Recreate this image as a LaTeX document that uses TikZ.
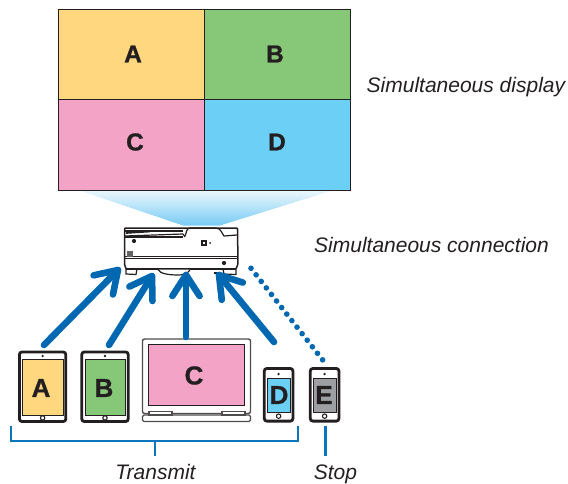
\documentclass[tikz,border=0pt]{standalone}
\usepackage{fontspec}
\setmainfont[BoldFeatures={FakeBold=0.9}]{Liberation Sans}
\usetikzlibrary{arrows.meta,calc}
\definecolor{cA}{HTML}{FFD77F}
\definecolor{cB}{HTML}{87C878}
\definecolor{cC}{HTML}{F3A3C6}
\definecolor{cD}{HTML}{6BCFF6}
\definecolor{cE}{HTML}{9D9FA2}
\definecolor{ink}{HTML}{231F20}
\definecolor{blu}{HTML}{0067B1}
\definecolor{brk}{HTML}{0A76BE}
\definecolor{beam}{HTML}{78CBF4}
\definecolor{beamtop}{HTML}{EDF8FD}
\tikzset{
  x=1pt,y=-1pt,
  panel/.style={draw=ink,line width=1.3pt,anchor=north west,inner sep=0pt},
  bigl/.style={inner sep=0pt,font=\fontsize{24.5}{24}\selectfont\bfseries,text=ink},
  devl/.style={inner sep=0pt,font=\fontsize{26}{26}\selectfont\bfseries,text=ink},
  lbl/.style={font=\fontsize{21}{22}\selectfont\itshape,text=ink,inner sep=0pt},
  body/.style={draw=ink,fill=white,line width=2.8pt,rounded corners=2.5pt},
  scr/.style={draw=ink,line width=1pt,inner sep=0pt,anchor=north west},
  send/.style={draw=blu,line width=6.6pt,line cap=round,line join=round},
  wave/.style={draw=blu,line width=5.6pt,line cap=round,dash pattern=on 0pt off 8.3pt},
  brack/.style={draw=brk,line width=2.8pt},
  pl/.style={draw=ink,line width=1.2pt},
  lap/.style={draw=ink!80,fill=white,line width=1.4pt},
}
\newcommand{\panelbox}[6]{\node[panel,fill=#6,minimum width=#3 pt,minimum height=#4 pt] (#5) at (#1,#2) {};}
% x y w h name colour bar
\newcommand{\tabletdev}[7]{%
  \draw[body] (#1,#2) rectangle ++(#3,#4);
  \node[scr,fill=#6,minimum width=#3 pt-6pt,minimum height=#4 pt-2*#7 pt] (#5) at ($(#1,#2)+(3,#7)$) {};
  \fill[ink] ($(#1,#2)+(#3/2,#7*0.62)$) circle (1.3pt);
  \draw[ink,line width=1.1pt,fill=white] ($(#1,#2)+(#3/2,#4-#7*0.55)$) circle (2.2pt);
}
\newcommand{\sendarrow}[2]{%
  \draw[send] (#1) -- (#2);
  \draw[send] ($(#2)!25pt!33:(#1)$) -- (#2) -- ($(#2)!25pt!-33:(#1)$);
}
\begin{document}
\begin{tikzpicture}
\useasboundingbox (0,0) rectangle (568,484);
% beam
\shade[top color=beamtop,bottom color=beam] (78,190) -- (334,190) -- (220,225.5) -- (183,225.5) -- cycle;
% screen
\panelbox{58}{9}{146}{90}{pA}{cA}
\panelbox{204}{9}{146}{90}{pB}{cB}
\panelbox{58}{99}{146}{91}{pC}{cC}
\panelbox{204}{99}{146}{91}{pD}{cD}
\node[bigl] (lA) at (133,54) {A};
\node[bigl] (lB) at (275,54) {B};
\node[bigl] (lC) at (135,142) {C};
\node[bigl] (lD) at (277,142) {D};
\node[lbl,anchor=base west] (lbldisp) at (366.5,93) {Simultaneous display};
\node[lbl,anchor=base west] (lblconn) at (314,252) {Simultaneous connection};
% projector
\node[inner sep=0pt,minimum width=114pt,minimum height=48pt] (proj) at (181,251) {};
\begin{scope}
\draw[pl,fill=white,line width=1.5pt,rounded corners=1pt] (124.5,228) -- (237.5,228) -- (238,264) -- (236,269) -- (126,269) -- (124.5,264) -- cycle;
\draw[pl,fill=white] (126,269) -- (126,274) -- (136,274.5) -- (137,269);
\draw[pl,fill=white] (223,269) -- (224,274) -- (236,274.5) -- (236,269);
\draw[ink,line width=2.2pt] (126,269) -- (236,269);
\draw[pl,fill=white] (158,269.5) .. controls (160,274) and (170,275) .. (178,275) .. controls (186,275) and (189,272) .. (190,269.5);
\draw[pl] (125,231) -- (183,231);
\draw[pl] (125,236) -- (183,234);
\draw[ink,line width=1.7pt] (126,233) -- (150,231.5);
\draw[pl] (185,236) .. controls (187,232) and (186,228.5) .. (190,228) -- (216,228) .. controls (221,228.5) and (221,232) .. (224,236) -- (237,235);
\draw[pl] (183,234) -- (185,237) ;
\draw[pl] (125,237) -- (183,237);
\draw[ink,line width=.9pt] (124.5,256) -- (237.5,256);
\draw[ink,line width=.9pt] (124.5,258) -- (237.5,258);
\fill[ink] (134,241) circle (2.1pt);
\draw[pl] (202,241) rectangle (206,245);
\fill[ink] (210,243) circle (1pt);
\fill[ink!70] (127,251) rectangle (133,257);
\fill[ink] (224,263) circle (2.1pt);
\draw[ink,line width=.8pt] (195,258) -- (199,258) (208,258) -- (212,258);
\fill[ink] (214,272) rectangle (219,274);
\end{scope}
% devices
\tabletdev{19.4}{352}{46.4}{69.5}{dA}{cA}{6.5}
\tabletdev{81.8}{352}{46.4}{69.5}{dB}{cB}{6.5}
% laptop
\draw[lap,rounded corners=2pt] (142.5,339) rectangle (250.5,413.5);
\node[scr,fill=cC,minimum width=96pt,minimum height=61pt] (dC) at (148,344) {};
\draw[lap,rounded corners=1.5pt] (142.5,415) rectangle (250.5,421.5);
\draw[lap] (149,411.5) rectangle (172,415);
\draw[lap] (222,411.5) rectangle (245,415);
\tabletdev{264.3}{368.5}{28.6}{52.6}{dD}{cD}{9}
\tabletdev{310.3}{368.5}{28.6}{52.6}{dE}{cE}{9}
\node[devl] (tA) at (41,388) {A};
\node[devl] (tB) at (104,388) {B};
\node[devl] (tC) at (194,375.5) {C};
\node[devl] (tD) at (279,395) {D};
\node[devl] (tE) at (324,395) {E};
% connectors
\coordinate (sa) at (44,345);\coordinate (ta) at (118,270);
\coordinate (sb) at (109,345);\coordinate (tb) at (152,276);
\coordinate (sc) at (186,337);\coordinate (tc) at (186,275);
\coordinate (sd) at (274,342);\coordinate (td) at (219,275);
\coordinate (se) at (322.7,360);\coordinate (te) at (251,268.3);
\sendarrow{sa}{ta}
\sendarrow{sb}{tb}
\sendarrow{sc}{tc}
\sendarrow{sd}{td}
\draw[wave] (te) -- (se);
% brackets
\coordinate (bl) at (11,426);\coordinate (br) at (298,426);
\coordinate (blb) at (11,441);\coordinate (brb) at (298,441);
\draw[brack] (bl) -- (blb) -- (brb) -- (br);
\node[lbl,anchor=base] (lbltr) at (155.5,479) {Transmit};
\node[lbl,anchor=base] (lblst) at (335.5,479) {Stop};
\coordinate (ma) at (155,441);\coordinate (mb) at (155,456);
\draw[brack] (ma) -- (mb);
\coordinate (sta) at (325.5,426);\coordinate (stb) at (325.5,456);
\draw[brack] (sta) -- (stb);
\end{tikzpicture}
\end{document}
